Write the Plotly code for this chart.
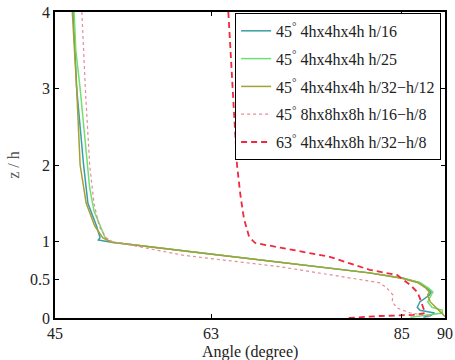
import plotly.graph_objects as go

# Series data (z/h, angle in degrees)
z_h16 = [4.0, 3.0, 2.0, 1.5, 1.2, 1.05, 1.02, 0.99, 0.88, 0.73, 0.59, 0.52, 0.46, 0.39, 0.34, 0.30, 0.26, 0.21, 0.14, 0.10, 0.065, 0.03, 0.01]
a_h16 = [47.1, 47.5, 48.3, 48.8, 49.8, 50.2, 50.0, 51.5, 59.8, 71.0, 81.3, 85.2, 87.1, 88.0, 88.4, 88.2, 87.7, 87.1, 86.8, 87.1, 88.8, 88.3, 87.5]

z_h25 = [4.0, 3.5, 3.0, 2.5, 2.0, 1.7, 1.4, 1.2, 1.07, 1.02, 0.99, 0.88, 0.73, 0.59, 0.52, 0.46, 0.39, 0.34, 0.30, 0.21, 0.14, 0.10, 0.065, 0.04, 0.01]
a_h25 = [47.2, 47.4, 47.9, 48.3, 48.7, 49.0, 49.5, 50.2, 50.7, 51.0, 51.6, 59.8, 71.0, 81.3, 85.2, 87.1, 88.1, 88.6, 88.4, 88.0, 88.5, 89.7, 89.7, 87.9, 86.0]

z_h32 = [4.0, 3.0, 2.0, 1.5, 1.2, 1.05, 1.02, 0.99, 0.88, 0.73, 0.59, 0.52, 0.46, 0.39, 0.34, 0.30, 0.21, 0.10, 0.02]
a_h32 = [47.0, 47.5, 47.9, 48.6, 49.6, 50.5, 51.0, 51.6, 59.7, 70.9, 81.2, 85.0, 86.9, 87.8, 88.2, 88.0, 88.3, 89.3, 90.0]

z_8h = [4.0, 3.0, 2.0, 1.5, 1.2, 1.05, 1.0, 0.82, 0.67, 0.46, 0.39, 0.30, 0.21, 0.13, 0.065, 0.03, 0.01]
a_8h = [48.1, 48.5, 49.0, 49.5, 50.1, 50.9, 51.6, 59.8, 71.0, 82.5, 83.3, 84.0, 83.9, 84.5, 86.0, 88.3, 88.0]

z_63 = [4.0, 3.0, 2.0, 1.6, 1.3, 1.06, 0.98, 0.92, 0.80, 0.63, 0.56, 0.43, 0.34, 0.26, 0.13, 0.065, 0.04, 0.026, 0.0]
a_63 = [65.0, 65.5, 66.0, 66.4, 66.8, 67.4, 68.1, 71.0, 76.7, 81.3, 84.5, 86.0, 86.8, 87.1, 87.5, 87.7, 86.3, 82.5, 78.7]

labels = [
    "45<sup>°</sup> 4hx4hx4h h/16",
    "45<sup>°</sup> 4hx4hx4h h/25",
    "45<sup>°</sup> 4hx4hx4h h/32−h/12",
    "45<sup>°</sup> 8hx8hx8h h/16−h/8",
    "63<sup>°</sup> 4hx4hx8h h/32−h/8",
]
x_ticks = [45, 63, 85, 90]
y_ticks = [0, 0.5, 1, 2, 3, 4]
x_title = "Angle (degree)"
y_title = "z / h"

series = [
    (a_h16, z_h16, dict(color="#3a9ca6", width=1.5)),
    (a_h25, z_h25, dict(color="#6ee06e", width=1.5)),
    (a_h32, z_h32, dict(color="#a5a033", width=1.5)),
    (a_8h, z_8h, dict(color="#e88a98", width=1.2, dash="dot")),
    (a_63, z_63, dict(color="#f0283c", width=1.8, dash="6px,4px")),
]

fig = go.Figure()
for i, (a, z, line) in enumerate(series):
    fig.add_trace(go.Scatter(x=a, y=z, mode="lines", line=line, name=labels[i],
                             legendgroup=str(i)))

FAM = "Liberation Serif"
font = dict(family=FAM, size=16, color="#222")
axis_common = dict(showline=True, linecolor="black", linewidth=1.5, mirror="ticks",
                   ticks="inside", ticklen=4, tickcolor="black", showgrid=False,
                   zeroline=False, tickfont=font, automargin=False)

fig.update_layout(
    width=455, height=360,
    margin=dict(l=55, r=10, t=12, b=42),
    paper_bgcolor="white", plot_bgcolor="white",
    font=font,
    xaxis=dict(range=[45, 90], tickvals=x_ticks, ticktext=[str(t) for t in x_ticks],
               **axis_common),
    yaxis=dict(range=[0, 4], tickvals=y_ticks, ticktext=["0", "0.5", "1", "2", "3", "4"],
               title=dict(text=y_title, font=dict(family=FAM, size=16, color="#555"), standoff=6),
               **axis_common),
    legend=dict(x=0.99, y=0.997, xanchor="right", yanchor="top",
                bgcolor="white", bordercolor="black", borderwidth=1,
                font=dict(family=FAM, size=16, color="#222"),
                tracegroupgap=4, itemwidth=30),
    showlegend=True,
)
fig.add_annotation(text=x_title, xref="paper", yref="paper", x=0.5, y=-0.11,
                   xanchor="center", yanchor="middle", showarrow=False,
                   font=dict(family=FAM, size=16, color="#222"))

fig.write_html("out.html")
